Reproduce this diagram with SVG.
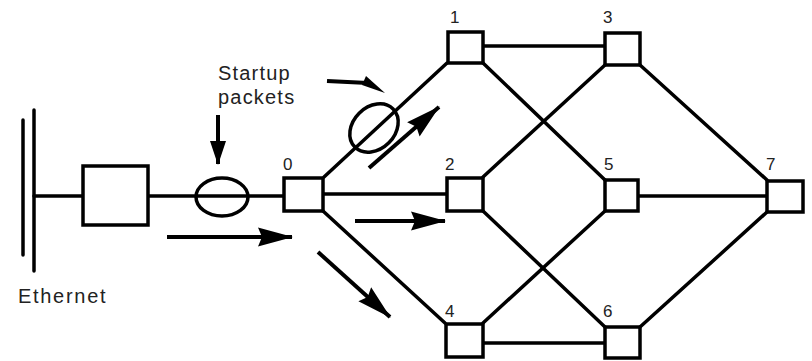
<svg xmlns="http://www.w3.org/2000/svg" width="812" height="361" viewBox="0 0 812 361">
<defs>
<style>
.ln{stroke:#000;stroke-width:3.5;fill:none;stroke-linecap:round}
.nd{stroke:#000;stroke-width:3.5;fill:#fff}
.lb{font-family:"Liberation Sans",Arial,sans-serif;font-size:17px;fill:#222}
.tx{font-family:"Liberation Sans",Arial,sans-serif;font-size:20px;fill:#222;letter-spacing:1.2px}
.ar{stroke:#000;stroke-width:4;fill:none}
</style>
<marker id="ah" viewBox="0 0 10 10" refX="9" refY="5" markerWidth="10" markerHeight="10" markerUnits="userSpaceOnUse" orient="auto" overflow="visible">
<path d="M-25,-4.5 L10,5 L-25,14.5 L-21,5 Z" fill="#000"/>
</marker>
<marker id="ahs" viewBox="0 0 10 10" refX="9" refY="5" markerWidth="10" markerHeight="10" markerUnits="userSpaceOnUse" orient="auto" overflow="visible">
<path d="M-14,-3 L10,5 L-14,13 Z" fill="#000"/>
</marker>
</defs>
<g id="ethernet">
<line x1="23" y1="120" x2="23" y2="255" class="ln" stroke-width="4"/>
<line x1="34" y1="110" x2="34" y2="271" class="ln" stroke-width="4"/>
<text x="18" y="303" class="tx" style="letter-spacing:1.7px">Ethernet</text>
</g>
<g id="connectors">
<line x1="34" y1="196" x2="283" y2="196" class="ln"/>
<line x1="324" y1="194" x2="447" y2="194" class="ln"/>
<line x1="483" y1="46" x2="605" y2="46" class="ln"/>
<line x1="638" y1="196" x2="767" y2="196" class="ln"/>
<line x1="483" y1="343" x2="605" y2="343" class="ln"/>
<line x1="324" y1="177" x2="447" y2="63" class="ln"/>
<line x1="323" y1="211" x2="445" y2="323" class="ln"/>
<line x1="483" y1="63" x2="605" y2="180" class="ln"/>
<line x1="483" y1="177" x2="605" y2="65" class="ln"/>
<line x1="483" y1="211" x2="605" y2="327" class="ln"/>
<line x1="483" y1="323" x2="605" y2="211" class="ln"/>
<line x1="640" y1="65" x2="767" y2="180" class="ln"/>
<line x1="640" y1="327" x2="767" y2="212" class="ln"/>
</g>
<g id="host">
<rect x="83" y="166" width="65" height="59" class="nd"/>
</g>
<g id="packet1">
<ellipse cx="222" cy="197" rx="26" ry="19" class="ln"/>
</g>
<g id="packet2">
<ellipse cx="374" cy="128" rx="27" ry="21" transform="rotate(-45 374 128)" class="ln"/>
</g>
<g id="labels">
<text x="218" y="80" class="tx">Startup</text>
<text x="218" y="104" class="tx">packets</text>
</g>
<g id="arrows">
<line x1="218" y1="115" x2="218" y2="164" class="ar" marker-end="url(#ahs)"/>
<line x1="167" y1="237" x2="292" y2="237" class="ar" marker-end="url(#ah)"/>
<line x1="355" y1="221" x2="445" y2="221" class="ar" marker-end="url(#ah)"/>
<line x1="318" y1="252" x2="390" y2="317" class="ar" marker-end="url(#ah)"/>
<line x1="369" y1="168" x2="439" y2="107" class="ar" marker-end="url(#ah)"/>
<path d="M327,81 L368,83" class="ar"/>
<path d="M366,76 L385,93 L362,85 Z" fill="#000"/>
</g>
<g id="n0"><rect x="284" y="178" width="39" height="33" class="nd"/><text x="283" y="170" class="lb">0</text></g>
<g id="n1"><rect x="448" y="32" width="35" height="31" class="nd"/><text x="450" y="23" class="lb">1</text></g>
<g id="n2"><rect x="447" y="178" width="36" height="33" class="nd"/><text x="445" y="170" class="lb">2</text></g>
<g id="n3"><rect x="605" y="33" width="35" height="32" class="nd"/><text x="603" y="23" class="lb">3</text></g>
<g id="n4"><rect x="446" y="324" width="37" height="33" class="nd"/><text x="445" y="317" class="lb">4</text></g>
<g id="n5"><rect x="605" y="180" width="33" height="31" class="nd"/><text x="604" y="170" class="lb">5</text></g>
<g id="n6"><rect x="605" y="327" width="35" height="31" class="nd"/><text x="603" y="317" class="lb">6</text></g>
<g id="n7"><rect x="767" y="181" width="36" height="31" class="nd"/><text x="766" y="170" class="lb">7</text></g>
</svg>
